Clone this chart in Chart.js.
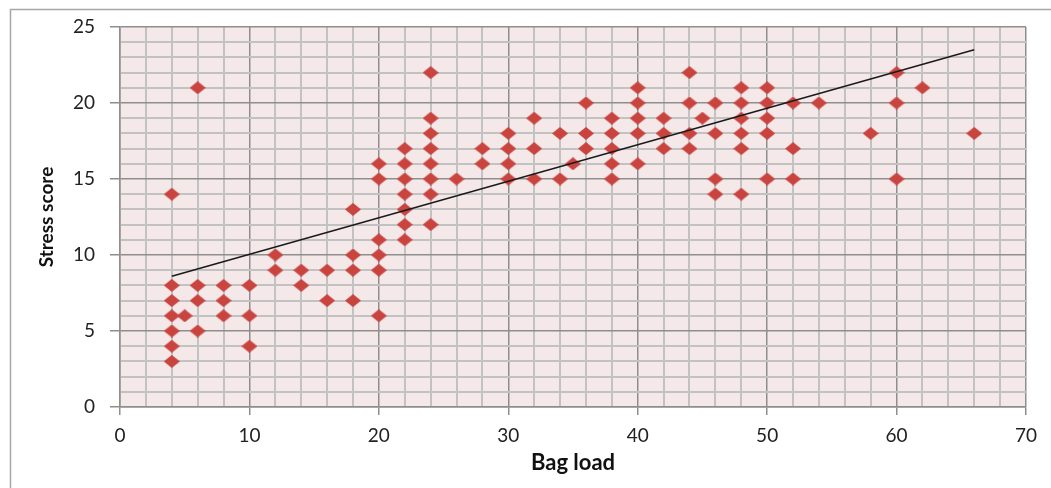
<!DOCTYPE html>
<html>
<head>
<meta charset="utf-8">
<script src="https://cdn.jsdelivr.net/npm/chart.js"></script>
<style>
  html, body { margin: 0; padding: 0; background: #ffffff; }
  #wrap { width: 1051px; height: 488px; }
</style>
</head>
<body>
<div id="wrap"><canvas id="chart" width="1051" height="488"></canvas></div>
<script>
// scatter points (bag load vs stress score)
const bagLoad = [
  4, 4, 4, 4, 4, 4, 4,
  5,
  6, 6, 6, 6,
  8, 8, 8,
  10, 10, 10,
  12, 12,
  14, 14,
  16, 16,
  18, 18, 18, 18,
  20, 20, 20, 20, 20, 20,
  22, 22, 22, 22, 22, 22, 22,
  24, 24, 24, 24, 24, 24, 24, 24,
  26,
  28, 28,
  30, 30, 30, 30,
  32, 32, 32,
  34, 34,
  35,
  36, 36, 36,
  38, 38, 38, 38, 38,
  40, 40, 40, 40, 40,
  42, 42, 42,
  44, 44, 44, 44,
  45,
  46, 46, 46, 46,
  48, 48, 48, 48, 48, 48,
  50, 50, 50, 50, 50,
  52, 52, 52,
  54,
  58,
  60, 60, 60,
  62,
  66
];
const stressScore = [
  14, 8, 7, 6, 5, 4, 3,
  6,
  21, 8, 7, 5,
  8, 7, 6,
  8, 6, 4,
  10, 9,
  9, 8,
  9, 7,
  13, 10, 9, 7,
  16, 15, 11, 10, 9, 6,
  17, 16, 15, 14, 13, 12, 11,
  22, 19, 18, 17, 16, 15, 14, 12,
  15,
  17, 16,
  18, 17, 16, 15,
  19, 17, 15,
  18, 15,
  16,
  20, 18, 17,
  19, 18, 17, 16, 15,
  21, 20, 19, 18, 16,
  19, 18, 17,
  22, 20, 18, 17,
  19,
  20, 18, 15, 14,
  21, 20, 19, 18, 17, 14,
  21, 20, 19, 18, 15,
  20, 17, 15,
  20,
  18,
  22, 20, 15,
  21,
  18
];

// trendline end points as drawn in the picture
const trendX = [4, 66];
const trendY = [8.6, 23.5];

const xTicks = [0, 10, 20, 30, 40, 50, 60, 70];
const yTicks = [0, 5, 10, 15, 20, 25];

const points = bagLoad.map((x, i) => ({ x: x, y: stressScore[i] }));
const trend = trendX.map((x, i) => ({ x: x, y: trendY[i] }));

// excel style diamond, a bit wider than tall
function diamond(w, h, color) {
  const c = document.createElement('canvas');
  c.width = w; c.height = h;
  const g = c.getContext('2d');
  g.fillStyle = color;
  g.beginPath();
  g.moveTo(w / 2, 0);
  g.lineTo(w, h / 2);
  g.lineTo(w / 2, h);
  g.lineTo(0, h / 2);
  g.closePath();
  g.fill();
  return c;
}
const marker = diamond(16, 13, '#c9443f');

const majorGrid = '#8e8e8e';
const minorGrid = '#c2c2c2';

const plotBg = {
  id: 'plotBg',
  beforeDraw(chart) {
    const { ctx, chartArea: a } = chart;
    ctx.save();
    // outer frame
    ctx.strokeStyle = '#a6a6a6';
    ctx.lineWidth = 1.5;
    ctx.strokeRect(10.5, 9.5, 1200, 700);
    ctx.fillStyle = '#f5e8e9';
    ctx.fillRect(a.left, a.top, a.right - a.left, a.bottom - a.top);
    ctx.restore();
  }
};

const tickFont = { family: 'Lato', size: 19 };

new Chart(document.getElementById('chart'), {
  data: {
    datasets: [
      {
        type: 'line',
        data: trend,
        borderColor: '#1a1a1a',
        borderWidth: 1.5,
        pointRadius: 0,
        fill: false,
        order: 0
      },
      {
        type: 'scatter',
        data: points,
        pointStyle: marker,
        pointRadius: 7,
        pointHoverRadius: 7,
        order: 1
      }
    ]
  },
  options: {
    responsive: false,
    animation: false,
    layout: { padding: { left: 0, top: 27, right: 25, bottom: 0 } },
    plugins: {
      legend: { display: false },
      tooltip: { enabled: false }
    },
    scales: {
      x: {
        type: 'linear',
        min: 0,
        max: 70,
        afterFit(s) { s.height = 81; },
        ticks: {
          stepSize: 2,
          autoSkip: false,
          maxRotation: 0,
          padding: 9,
          color: '#222222',
          font: tickFont,
          callback: v => xTicks.includes(v) ? v : ''
        },
        grid: {
          color: c => c.tick && c.tick.value % 10 === 0 ? majorGrid : minorGrid,
          lineWidth: c => c.tick && c.tick.value % 10 === 0 ? 1.5 : 2,
          tickColor: c => c.tick && c.tick.value % 10 === 0 ? majorGrid : 'rgba(0,0,0,0)',
          tickLength: 8,
          tickWidth: 1.5
        },
        border: { color: majorGrid, width: 1.5 },
        title: {
          display: true,
          text: 'Bag load',
          color: '#111111',
          font: { family: 'Lato', size: 22, weight: 'bold', lineHeight: 1.2 },
          padding: { top: 0, bottom: 12 }
        }
      },
      y: {
        type: 'linear',
        min: 0,
        max: 25,
        afterFit(s) { s.width = 120; },
        ticks: {
          stepSize: 1,
          autoSkip: false,
          padding: 15,
          color: '#222222',
          font: tickFont,
          callback: v => yTicks.includes(v) ? v : ''
        },
        grid: {
          color: c => c.tick && c.tick.value % 5 === 0 ? majorGrid : minorGrid,
          lineWidth: c => c.tick && c.tick.value % 5 === 0 ? 1.5 : 2,
          tickColor: c => c.tick && c.tick.value % 5 === 0 ? majorGrid : 'rgba(0,0,0,0)',
          tickLength: 10,
          tickWidth: 1.5
        },
        border: { color: majorGrid, width: 1.5 },
        title: {
          display: true,
          text: 'Stress score',
          color: '#111111',
          font: { family: 'Lato', size: 19, weight: 'bold', lineHeight: 1.2 },
          padding: { top: 35, bottom: 0 }
        }
      }
    }
  },
  plugins: [plotBg]
});
</script>
</body>
</html>
